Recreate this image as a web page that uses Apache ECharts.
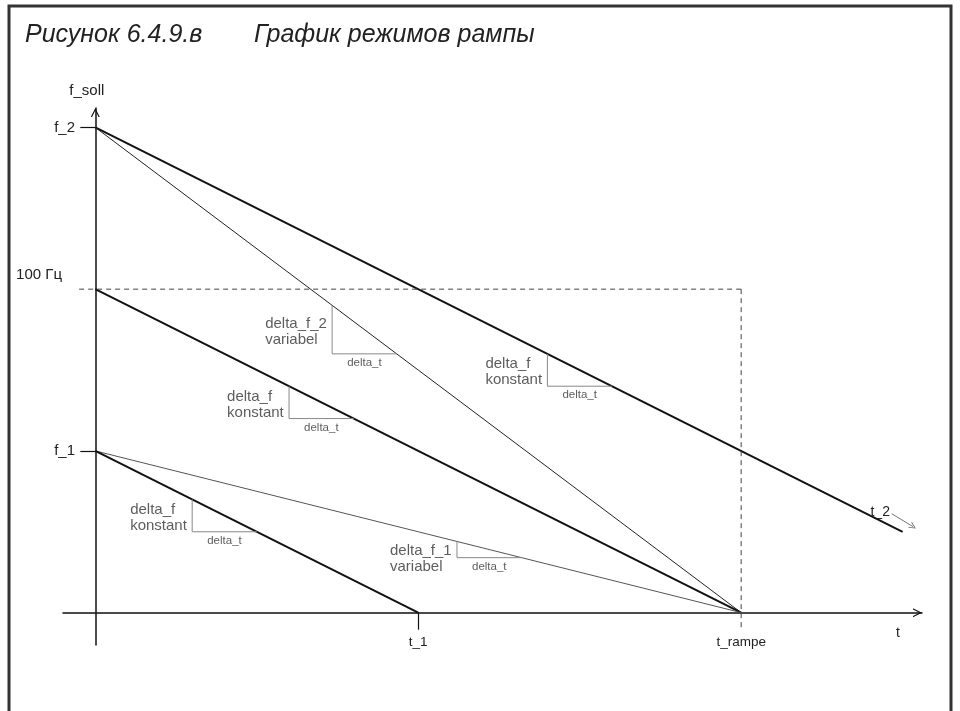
<!DOCTYPE html>
<html><head><meta charset="utf-8">
<script src="https://cdn.jsdelivr.net/npm/echarts@6/dist/echarts.min.js"></script>
<style>html,body{margin:0;padding:0;background:#fff}#c{width:960px;height:711px}</style>
</head><body><div id="c"></div>
<script>
// ---- data ----
const titleParts = ['Рисунок 6.4.9.в', 'График режимов рампы'];
const yTickValues = [50, 100, 150];
const yTickLabels = ['f_1', '100 Гц', 'f_2'];
const yTickMarks = [50, 150];
const xTickValues = [5, 10];
const xTickLabels = ['t_1', 't_rampe'];
const xTickMarks = [5];
const xAxisName = 't';
const yAxisName = 'f_soll';

const rampT2 = [[0, 150], [12.5, 25]];      // f_2 -> t_2, konstant
const rampF2Var = [[0, 150], [10, 0]];      // f_2 -> t_rampe, variabel
const ramp100 = [[0, 100], [10, 0]];        // 100 Гц -> t_rampe
const rampF1Var = [[0, 50], [10, 0]];       // f_1 -> t_rampe, variabel
const rampT1 = [[0, 50], [5, 0]];           // f_1 -> t_1, konstant
const ref100 = [[-0.25, 100], [10, 100]];
const refRampe = [[10, 100], [10, -5.3]];
const t2Arrow = [[12.33, 30.6], [12.66, 26.6]];
const t2Label = 't_2';

const triX = [3, 7, 1.5, 3.667, 5.6];
const triYTop = [70, 80, 35, 95, 22];
const triDx = [1, 1, 1, 1, 1];
const triDy = [10, 10, 10, 15, 5];
const triLabelF = [['delta_f', 'konstant'], ['delta_f', 'konstant'], ['delta_f', 'konstant'], ['delta_f_2', 'variabel'], ['delta_f_1', 'variabel']];
const triLabelT = ['delta_t', 'delta_t', 'delta_t', 'delta_t', 'delta_t'];

// ---- chart ----
const FONT = 'Liberation Sans';
const chevron = 'path://M0,10 L5,0 L10,10 L8.6,10 L5,2.8 L1.4,10 Z';
const ctx = document.createElement('canvas').getContext('2d');
ctx.font = '15px "' + FONT + '"';
function textW(s) { return Math.ceil(ctx.measureText(s).width) + 1; }

const series = [];
function seg(data, width, color, type) {
  series.push({ type: 'line', data: data, symbol: 'none', silent: true, animation: false, clip: false,
    lineStyle: { width: width, color: color, type: type || 'solid' } });
}
seg(rampT2, 2, '#111');
seg(rampF2Var, 1, '#222');
seg(ramp100, 2, '#111');
seg(rampF1Var, 1, '#555');
seg(rampT1, 2, '#111');
seg(ref100, 1, '#444', [5, 4]);
seg(refRampe, 1, '#444', [5, 4]);

const fPts = [], tPts = [];
for (let i = 0; i < triX.length; i++) {
  const x0 = triX[i], yT = triYTop[i], yB = yT - triDy[i];
  seg([[x0, yT], [x0, yB], [x0 + triDx[i], yB]], 1, '#888');
  const w = Math.max(textW(triLabelF[i][0]), textW(triLabelF[i][1]));
  const shortLeg = triDy[i] < 8;
  fPts.push({ value: [x0, (yT + yB) / 2],
    label: { offset: shortLeg ? [0, 9] : [0, 2],
      formatter: '{a|' + triLabelF[i][0] + '}\n{a|' + triLabelF[i][1] + '}', rich: { a: { width: w, align: 'left', fontSize: 15, lineHeight: 16, fontFamily: FONT, color: '#333' } } } });
  tPts.push({ value: [x0 + triDx[i] / 2, yB], label: { formatter: triLabelT[i] } });
}
series.push({ type: 'scatter', data: fPts, symbolSize: 0, silent: true, animation: false,
  label: { show: true, position: 'left', distance: 4 } });
series.push({ type: 'scatter', data: tPts, symbolSize: 0, silent: true, animation: false,
  label: { show: true, position: 'bottom', distance: 3, fontSize: 11.5, fontFamily: FONT, color: '#333' } });
series.push({ type: 'lines', coordinateSystem: 'cartesian2d', silent: true, animation: false,
  symbol: ['none', chevron], symbolSize: [8, 7],
  lineStyle: { color: '#777', width: 1, opacity: 1 },
  label: { show: true, position: 'start', formatter: t2Label, fontSize: 14, fontFamily: FONT, color: '#222', distance: 2 },
  data: [{ coords: t2Arrow }] });

const titleStyle = { fontStyle: 'italic', fontWeight: 'normal', fontSize: 25, fontFamily: FONT, color: '#222' };
const option = {
  backgroundColor: '#fff',
  animation: false,
  textStyle: { fontFamily: FONT },
  title: [
    { text: titleParts[0], left: 25, top: 23, padding: 0, textStyle: titleStyle },
    { text: titleParts[1], left: 254, top: 23, padding: 0, textStyle: titleStyle }
  ],
  graphic: [{ type: 'rect', silent: true, shape: { x: 9, y: 6, width: 942, height: 760 },
    style: { fill: 'none', stroke: '#333', lineWidth: 3 } }],
  grid: { left: 63, right: 38, top: 108, bottom: 66, containLabel: false, outerBoundsMode: 'none' },
  xAxis: {
    type: 'value', min: -0.5, max: 12.8,
    name: xAxisName, nameLocation: 'end', nameGap: -26, nameMoveOverlap: false,
    nameTextStyle: { fontSize: 14, color: '#222', verticalAlign: 'top', lineHeight: 40 },
    axisLine: { onZero: true, symbol: ['none', chevron], symbolSize: [12, 9], symbolOffset: [0, -4.5],
      lineStyle: { color: '#111', width: 1.5 } },
    axisTick: { show: true, customValues: xTickMarks, length: 17, lineStyle: { color: '#111', width: 1.2 } },
    axisLabel: { customValues: xTickValues, margin: -10, fontSize: 13.5, color: '#222',
      formatter: v => xTickLabels[xTickValues.indexOf(v)] },
    splitLine: { show: false }
  },
  yAxis: {
    type: 'value', min: -10, max: 156,
    name: yAxisName, nameLocation: 'end', nameGap: 10, nameMoveOverlap: false,
    nameTextStyle: { fontSize: 15, color: '#222', padding: [0, 17, 0, 0] },
    axisLine: { onZero: true, symbol: ['none', chevron], symbolSize: [11, 9], symbolOffset: [0, -4.5],
      lineStyle: { color: '#111', width: 1.5 } },
    axisTick: { show: true, customValues: yTickMarks, length: 15, lineStyle: { color: '#111', width: 1.2 } },
    axisLabel: { customValues: yTickValues, margin: -12, fontSize: 15, color: '#222',
      formatter: v => { const s = yTickLabels[yTickValues.indexOf(v)]; return v === 100 ? '{u|' + s + '}' : s; },
      rich: { u: { fontSize: 15, color: '#222', padding: [0, 13, 28, 0] } } },
    splitLine: { show: false }
  },
  series: series
};
const chart = echarts.init(document.getElementById('c'), null, { renderer: 'canvas' });
chart.setOption(option);
</script></body></html>
